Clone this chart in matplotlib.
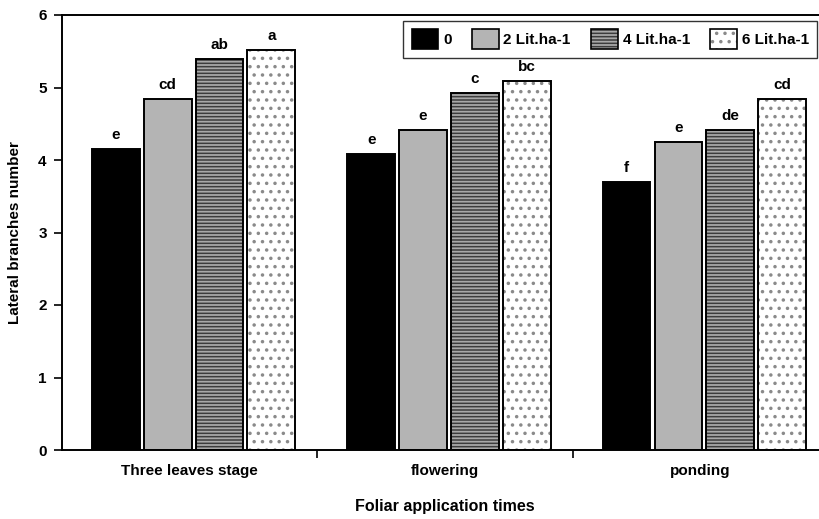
import matplotlib
matplotlib.use("Agg")
import matplotlib.pyplot as plt
from matplotlib.patches import Patch
from matplotlib.legend_handler import HandlerTuple
import numpy as np

plt.rcParams['font.family'] = ['Liberation Sans', 'DejaVu Sans']
plt.rcParams['font.weight'] = 'bold'
plt.rcParams['hatch.linewidth'] = 1.3

categories = ["Three leaves stage", "flowering", "ponding"]
series_names = ["0", "2 Lit.ha-1", "4 Lit.ha-1", "6 Lit.ha-1"]
vals_0 = [4.15, 4.08, 3.70]
vals_2 = [4.84, 4.41, 4.25]
vals_4 = [5.40, 4.93, 4.41]
vals_6 = [5.52, 5.09, 4.84]
letters_0 = ["e", "e", "f"]
letters_2 = ["cd", "e", "e"]
letters_4 = ["ab", "c", "de"]
letters_6 = ["a", "bc", "cd"]

series_vals = [vals_0, vals_2, vals_4, vals_6]
series_letters = [letters_0, letters_2, letters_4, letters_6]
faces = ["black", "#b4b4b4", "#3c3c3c", "white"]
hatches = [None, None, "-----", ".."]
hatch_cols = ["black", "#b4b4b4", "#a8a8a8", "#8a8a8a"]

fig = plt.figure(figsize=(8.19, 5.19), dpi=100)
ax = fig.add_axes([62/819, 69/519, 766/819, 435/519])

x = np.arange(len(categories))
offsets = [-0.289, -0.086, 0.117, 0.320]
width = 0.187
handles = []
for vals, labs, off, fc, h, hc, name in zip(series_vals, series_letters, offsets,
                                            faces, hatches, hatch_cols, series_names):
    ax.bar(x + off, vals, width, color=fc, edgecolor=hc, hatch=h, linewidth=0, zorder=2)
    ax.bar(x + off, vals, width, fill=False, edgecolor="black", linewidth=1.4, zorder=3)
    for xi, v, l in zip(x + off, vals, labs):
        ax.annotate(l, (xi, v), xytext=(0, 5), textcoords="offset points",
                    ha="center", va="bottom", fontsize=11, fontweight="bold")
    hp = Patch(facecolor=fc, edgecolor=hc, hatch=h, linewidth=0)
    op = Patch(fill=False, edgecolor="black", linewidth=1.2)
    handles.append((hp, op))

ax.set_xlim(-0.5, 2.5)
ax.set_ylim(0, 6)
ax.set_xticks(x)
ax.set_xticklabels(categories, fontsize=11, fontweight="bold")
ax.set_xticks([0.5, 1.5], minor=True)
ax.tick_params(axis="x", which="major", length=0, pad=10)
ax.tick_params(axis="x", which="minor", length=6, width=1.2, direction="out")
ax.set_yticks(range(0, 7))
ax.tick_params(axis="y", length=6, width=1.2, direction="out", labelsize=11, pad=5)
for lbl in ax.get_yticklabels():
    lbl.set_fontweight("bold")
for s in ["left", "bottom", "top", "right"]:
    ax.spines[s].set_linewidth(1.4)

ax.set_xlabel("Foliar application times", fontsize=11.5, fontweight="bold", labelpad=15)
ax.set_ylabel("Lateral branches number", fontsize=11, fontweight="bold", labelpad=12)

leg = ax.legend(handles, series_names, loc="upper right", bbox_to_anchor=(0.986, 0.986),
                ncol=4, frameon=True, fancybox=False, edgecolor="black",
                handler_map={tuple: HandlerTuple(ndivide=1, pad=0)},
                handlelength=1.75, handleheight=1.6, handletextpad=0.3,
                columnspacing=1.35, borderaxespad=0, borderpad=0.55,
                prop={"weight": "bold", "size": 11})
leg.get_frame().set_linewidth(1.0)

fig.savefig("out.png", dpi=100)
